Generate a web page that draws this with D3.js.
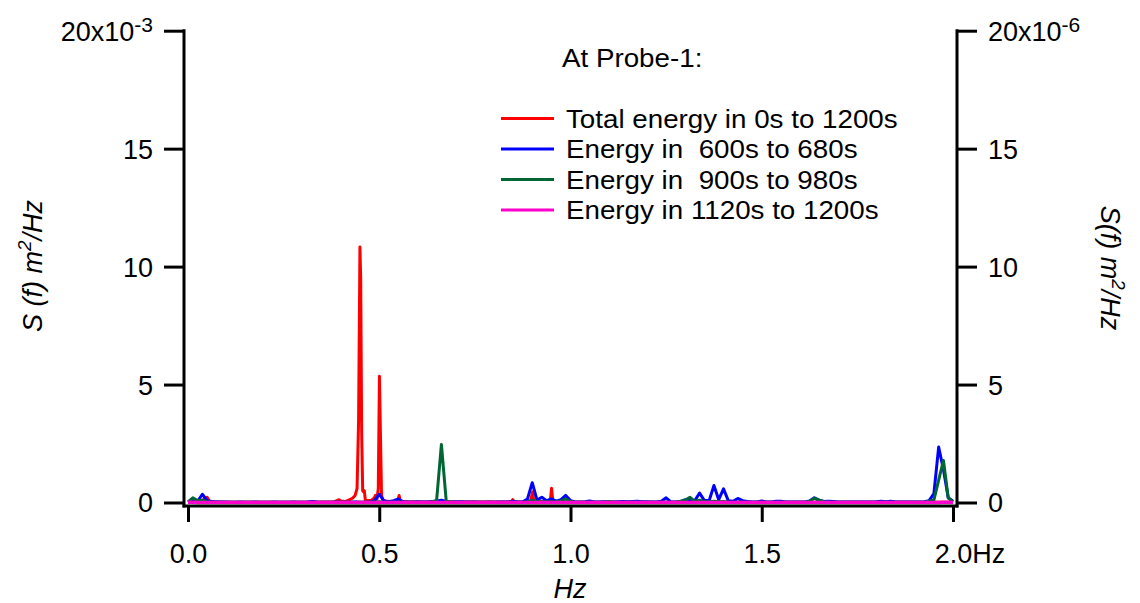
<!DOCTYPE html>
<html><head><meta charset="utf-8">
<script src="https://cdn.jsdelivr.net/npm/d3@7"></script>
<style>
html,body{margin:0;padding:0;background:#fff;}
svg{display:block;}
text{font-family:"Liberation Sans",Arial,Helvetica,sans-serif;fill:#000;}
</style></head><body>
<svg id="chart" width="1140" height="603"></svg>
<script>
// ---- tick values ----
const xTicks = [0, 0.5, 1.0, 1.5, 2.0];
const yTicks = [0, 5, 10, 15, 20];

// ---- legend ----
const legendTitle = "At Probe-1:";
const seriesNames = ["Total energy in 0s to 1200s", "Energy in  600s to 680s", "Energy in  900s to 980s", "Energy in 1120s to 1200s"];
const seriesColors = ["#ff0000", "#0000ff", "#006633", "#ff00cc"];

// ---- Total energy (left axis, x10^-3 m^2/Hz): frequency / value pairs ----
const redFreq = [0, 0.03, 0.04, 0.05, 0.056, 0.07, 0.1, 0.2, 0.3, 0.38, 0.395, 0.4, 0.41, 0.42, 0.43, 0.437, 0.442, 0.446, 0.4495, 0.4515, 0.454, 0.4567, 0.459, 0.461, 0.4635, 0.47, 0.48, 0.487, 0.49, 0.494, 0.4975, 0.5005, 0.503, 0.506, 0.51, 0.52, 0.54, 0.549, 0.552, 0.555, 0.58, 0.65, 0.845, 0.849, 0.853, 0.895, 0.899, 0.901, 0.904, 0.947, 0.9505, 0.954, 1.0, 1.5, 2.0];
const redVal  = [0.02, 0.03, 0.12, 0.22, 0.05, 0.02, 0.01, 0.01, 0.01, 0.02, 0.12, 0.06, 0.04, 0.1, 0.18, 0.3, 0.6, 3.5, 10.83, 9.5, 3.0, 0.5, 0.45, 0.5, 0.1, 0.08, 0.1, 0.2, 0.3, 0.15, 0.6, 5.35, 3.0, 0.3, 0.1, 0.05, 0.03, 0.1, 0.3, 0.05, 0.02, 0.02, 0.02, 0.12, 0.02, 0.02, 0.3, 0.45, 0.05, 0.03, 0.6, 0.03, 0.01, 0.01, 0.01];

// ---- 80 s windows (right axis, x10^-6 m^2/Hz), bins of 0.0125 Hz from 0 to 2 Hz ----
const binWidth = 0.0125;
const blueVal = [
 0.02,0.12,0.05,0.35,0.08,0.04,0.03,0.02,0.02,0.01,
 0.01,0.02,0.01,0.01,0.02,0.01,0.01,0.01,0.02,0.01,
 0.01,0.01,0.02,0.01,0.01,0.02,0.04,0.02,0.01,0.01,
 0.01,0.02,0.01,0.01,0.01,0.02,0.01,0.01,0.02,0.08,
 0.35,0.06,0.03,0.08,0.15,0.03,0.02,0.02,0.03,0.02,
 0.02,0.04,0.05,0.10,0.04,0.02,0.03,0.03,0.02,0.02,
 0.02,0.01,0.01,0.02,0.01,0.02,0.02,0.02,0.05,0.02,
 0.03,0.15,0.84,0.10,0.22,0.08,0.15,0.06,0.12,0.30,
 0.08,0.02,0.02,0.03,0.06,0.02,0.02,0.03,0.02,0.02,
 0.03,0.04,0.03,0.04,0.05,0.03,0.03,0.02,0.02,0.05,
 0.20,0.03,0.02,0.04,0.12,0.10,0.08,0.40,0.08,0.08,
 0.72,0.12,0.58,0.08,0.05,0.17,0.08,0.04,0.02,0.02,
 0.06,0.02,0.02,0.05,0.05,0.02,0.02,0.02,0.02,0.02,
 0.06,0.20,0.10,0.04,0.05,0.04,0.02,0.02,0.02,0.02,
 0.02,0.02,0.02,0.02,0.03,0.05,0.03,0.05,0.02,0.02,
 0.02,0.02,0.02,0.02,0.03,0.08,0.38,2.35,1.40,0.20,
 0.05];
const greenVal = [
 0.03,0.20,0.08,0.10,0.03,0.01,0.01,0.01,0.01,0.01,
 0.01,0.01,0.01,0.01,0.01,0.01,0.01,0.01,0.01,0.01,
 0.01,0.01,0.01,0.01,0.01,0.01,0.01,0.01,0.01,0.01,
 0.01,0.01,0.01,0.01,0.01,0.01,0.01,0.01,0.01,0.02,
 0.03,0.01,0.01,0.01,0.01,0.01,0.01,0.01,0.01,0.01,
 0.01,0.02,0.10,2.46,0.08,0.01,0.01,0.01,0.01,0.01,
 0.01,0.01,0.01,0.01,0.01,0.01,0.01,0.01,0.01,0.01,
 0.01,0.03,0.10,0.03,0.03,0.03,0.03,0.03,0.06,0.15,
 0.04,0.01,0.01,0.01,0.01,0.01,0.01,0.01,0.04,0.01,
 0.01,0.01,0.01,0.01,0.01,0.01,0.01,0.01,0.01,0.01,
 0.01,0.01,0.01,0.05,0.10,0.22,0.05,0.10,0.04,0.02,
 0.05,0.03,0.04,0.01,0.01,0.01,0.01,0.01,0.01,0.01,
 0.01,0.01,0.01,0.01,0.01,0.01,0.01,0.01,0.01,0.01,
 0.05,0.18,0.10,0.03,0.01,0.01,0.01,0.01,0.01,0.01,
 0.01,0.01,0.01,0.01,0.01,0.01,0.01,0.01,0.01,0.01,
 0.01,0.01,0.01,0.01,0.01,0.06,0.10,0.95,1.78,0.20,
 0.03];
const magentaVal = [
 0.01,0.01,0,0,0,0,0,0,0,0,
 0,0,0,0,0,0,0,0,0,0,
 0,0,0,0,0,0,0,0,0,0,
 0,0,0,0,0,0,0,0,0,0,
 0,0,0,0,0,0,0,0,0,0,
 0,0,0,0,0,0,0,0,0,0,
 0,0,0,0,0,0,0,0,0,0,
 0,0,0,0,0,0,0,0,0,0,
 0,0,0,0,0,0,0,0,0,0,
 0,0,0,0,0,0,0,0,0,0,
 0,0,0,0,0,0,0,0,0,0,
 0,0,0,0,0,0,0,0,0,0,
 0,0,0,0,0,0,0,0,0,0,
 0,0,0,0,0,0,0,0,0,0,
 0,0,0,0,0,0,0,0,0,0,
 0,0,0,0,0,0,0,0,0.01,0.01,
 0];

// ---- drawing ----
const svg = d3.select("#chart");
const FONT = 27;

const x = d3.scaleLinear().domain([0, 2]).range([188, 953]);
const yL = d3.scaleLinear().domain([0, 20]).range([502.5, 30.7]);
const yR = d3.scaleLinear().domain([0, 20]).range([502.5, 30.7]);

const axisLeftX = 184, axisRightX = 957, axisBottomY = 506;

// series
const redData = redFreq.map((f, i) => [f, redVal[i]]);
const binData = arr => arr.map((v, i) => [i * binWidth, v]);

const lineL = d3.line().x(d => x(d[0])).y(d => yL(d[1]));
const lineR = d3.line().x(d => x(d[0])).y(d => yR(d[1]));

const plot = svg.append("g");
[[redData, lineL, 0], [binData(blueVal), lineR, 1], [binData(greenVal), lineR, 2], [binData(magentaVal), lineR, 3]]
  .forEach(([data, gen, k]) => {
    plot.append("path").datum(data).attr("d", gen)
      .attr("fill", "none").attr("stroke", seriesColors[k])
      .attr("stroke-width", k === 3 ? 3.5 : 3)
      .attr("stroke-linejoin", "round");
  });

// axes
function styleAxis(g) {
  g.select(".domain").remove();
  g.selectAll(".tick line").attr("stroke", "#000").attr("stroke-width", 3);
  g.selectAll(".tick text").attr("font-size", FONT).attr("fill", "#000")
    .style("font-family", '"Liberation Sans",Arial,Helvetica,sans-serif');
}

const gL = svg.append("g").attr("transform", `translate(${axisLeftX},0)`)
  .call(d3.axisLeft(yL).tickValues(yTicks).tickSize(20).tickPadding(11).tickFormat(d3.format("d")));
styleAxis(gL);
gL.selectAll(".tick text").attr("dy", "0.35em");
gL.selectAll(".tick text").filter(d => d === 20).each(function () {
  const t = d3.select(this); t.text("20x10");
  t.append("tspan").attr("font-size", 21).attr("dy", -9).text("-3");
});

const gR = svg.append("g").attr("transform", `translate(${axisRightX},0)`)
  .call(d3.axisRight(yR).tickValues(yTicks).tickSize(20).tickPadding(11).tickFormat(d3.format("d")));
styleAxis(gR);
gR.selectAll(".tick text").attr("dy", "0.35em");
gR.selectAll(".tick text").filter(d => d === 20).each(function () {
  const t = d3.select(this); t.text("20x10");
  t.append("tspan").attr("font-size", 21).attr("dy", -9).text("-6");
});

const gB = svg.append("g").attr("transform", `translate(0,${axisBottomY})`)
  .call(d3.axisBottom(x).tickValues(xTicks).tickSize(16).tickFormat(d3.format(".1f")));
styleAxis(gB);
gB.selectAll(".tick text").attr("y", 57).attr("dy", 0);
gB.selectAll(".tick text").filter(d => d === 2).each(function () {
  const t = d3.select(this);
  const w = this.getComputedTextLength();
  t.attr("text-anchor", "start").attr("x", -w / 2);
  t.append("tspan").text("Hz");
});

// axis lines
const frame = svg.append("g").attr("stroke", "#000").attr("stroke-width", 3).attr("stroke-linecap", "square");
frame.append("line").attr("x1", axisLeftX).attr("x2", axisLeftX).attr("y1", yL(20)).attr("y2", axisBottomY);
frame.append("line").attr("x1", axisRightX).attr("x2", axisRightX).attr("y1", yR(20)).attr("y2", axisBottomY);
frame.append("line").attr("x1", axisLeftX).attr("x2", axisRightX).attr("y1", axisBottomY).attr("y2", axisBottomY);

// axis titles
svg.append("text").attr("x", 570).attr("y", 598).attr("text-anchor", "middle")
  .attr("font-size", FONT).attr("font-style", "italic").text("Hz");

const lt = svg.append("text").attr("transform", "translate(42,266) rotate(-90)")
  .attr("text-anchor", "middle").attr("font-size", FONT).attr("font-style", "italic");
lt.append("tspan").text("S (f) m");
lt.append("tspan").attr("font-size", 19).attr("dy", -11).text("2");
lt.append("tspan").attr("dy", 11).text("/Hz");

const rt = svg.append("text").attr("transform", "translate(1101,268) rotate(90)")
  .attr("text-anchor", "middle").attr("font-size", FONT).attr("font-style", "italic");
rt.append("tspan").text("S(f) m");
rt.append("tspan").attr("font-size", 19).attr("dy", -11).text("2");
rt.append("tspan").attr("dy", 11).text("/Hz");

// legend
const LEG = 25, SX = 1.11;
svg.append("text").attr("transform", `translate(562,67) scale(${SX},1)`)
  .attr("font-size", LEG).text(legendTitle);
const leg = svg.append("g");
seriesNames.forEach((name, i) => {
  const yy = 118.5 + i * 30.5;
  leg.append("line").attr("x1", 501).attr("x2", 554).attr("y1", yy).attr("y2", yy)
    .attr("stroke", seriesColors[i]).attr("stroke-width", 2.8);
  leg.append("text").attr("transform", `translate(566,${yy + 9}) scale(${SX},1)`)
    .attr("font-size", LEG).style("white-space", "pre").text(name);
});
</script>
</body></html>
